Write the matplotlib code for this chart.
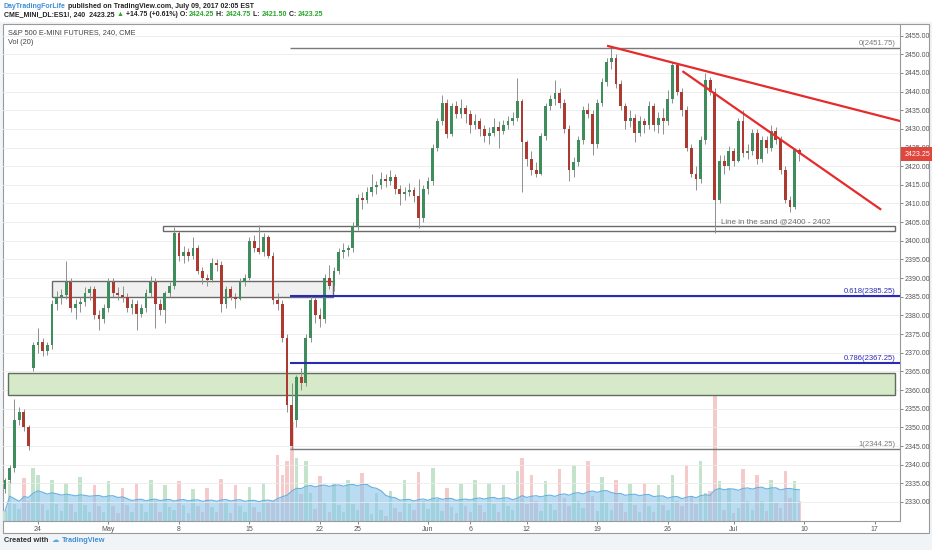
import numpy as np
import pandas as pd
import matplotlib
matplotlib.use("Agg")
import matplotlib.pyplot as plt
from matplotlib.patches import Rectangle
from matplotlib.ticker import FormatStrFormatter
from matplotlib.transforms import blended_transform_factory

plt.rcParams['font.family'] = ['Liberation Sans', 'DejaVu Sans']

# 240-minute ES1! bars (about 3 per session)
opens = [
    2333.5, 2336, 2339, 2352, 2354, 2350, 2366, 2372, 2373, 2370.5,
    2372, 2383, 2385, 2385.5, 2389, 2382, 2383, 2383.5, 2386, 2387,
    2380, 2379, 2382, 2389, 2386, 2385.5, 2385, 2382, 2383, 2380.5,
    2382, 2386, 2389, 2383, 2381.5, 2386, 2388, 2402, 2396, 2397,
    2396, 2398, 2392, 2390, 2389.5, 2394, 2393.5, 2383, 2387, 2385,
    2384.5, 2389, 2390, 2400, 2398, 2397, 2401, 2396, 2384, 2383,
    2374, 2356, 2352, 2363.5, 2362, 2374, 2384, 2380, 2379, 2390,
    2388, 2392, 2397, 2397.5, 2398, 2404, 2411.5, 2411, 2413, 2414.5,
    2415, 2416.5, 2416, 2417, 2414, 2412.5, 2413, 2413.5, 2412, 2406,
    2414, 2416, 2425, 2432, 2437, 2428.5, 2436, 2434, 2435.5, 2434,
    2431, 2432, 2430, 2428, 2429, 2430.5, 2429.5, 2431, 2432, 2433,
    2437.5, 2426.5, 2422, 2419, 2418, 2428, 2436, 2438, 2439.5, 2437,
    2430, 2419, 2421, 2427, 2435, 2434, 2426, 2437, 2442.5, 2448,
    2449, 2442, 2436, 2432, 2433, 2429, 2432, 2431, 2436, 2431,
    2433, 2432, 2438, 2447, 2440, 2435, 2425, 2418, 2416.5, 2427,
    2443, 2440, 2411, 2421.5, 2420, 2424, 2421.5, 2432, 2423.5, 2424,
    2429, 2422, 2427, 2425, 2429.5, 2427, 2419, 2411, 2409, 2424.25,
]
highs = [
    2336.5, 2340, 2357.5, 2355.5, 2355, 2350.5, 2373, 2376.5, 2374, 2373,
    2384, 2386.5, 2387, 2394.5, 2390, 2384.5, 2385, 2387.5, 2388, 2388,
    2381.5, 2383, 2390, 2390, 2387.5, 2388, 2386, 2384.5, 2384, 2383,
    2387, 2390.5, 2390, 2384.5, 2386.5, 2389, 2403.75, 2402.5, 2398.5, 2398,
    2401, 2399, 2393, 2391, 2395.5, 2395, 2394.5, 2388, 2388, 2386,
    2390, 2391, 2401, 2401.5, 2404.25, 2402, 2401.5, 2397, 2386, 2384,
    2375, 2362, 2364, 2366, 2375, 2385.5, 2385, 2382, 2391, 2393.5,
    2393, 2398, 2399.5, 2399, 2405, 2412.5, 2413, 2414.5, 2418, 2416,
    2418.5, 2418, 2419, 2418, 2415, 2414.5, 2415.5, 2414.5, 2416.5, 2415,
    2417, 2426, 2433, 2439, 2438, 2437, 2437.5, 2438, 2436.5, 2435,
    2434, 2433, 2431, 2430.5, 2433, 2432, 2432.5, 2433.5, 2434.5, 2443.5,
    2438, 2427, 2424, 2421, 2429, 2437, 2439, 2443, 2441, 2438,
    2431, 2422.5, 2428, 2436, 2437, 2435, 2438, 2443.5, 2449, 2451.75,
    2450, 2443, 2437, 2435, 2434, 2433.5, 2433, 2437.5, 2437, 2434.5,
    2435.5, 2440.5, 2448, 2447.5, 2441, 2436, 2426, 2420, 2428, 2445,
    2444, 2441, 2423, 2423, 2425.5, 2425, 2433, 2435, 2426, 2430,
    2430, 2428, 2428, 2431, 2430.5, 2428, 2420, 2412, 2425, 2424.75,
]
lows = [
    2332.5, 2335, 2338, 2350.5, 2349, 2344, 2365, 2370, 2369, 2369.5,
    2371, 2381.5, 2383, 2384.5, 2381, 2379, 2381, 2382.5, 2384, 2379,
    2376, 2378, 2381, 2385, 2384, 2383.5, 2381, 2380.5, 2376, 2379.5,
    2381, 2385, 2376.5, 2380, 2378, 2385, 2387, 2394.5, 2394, 2394.5,
    2395, 2391, 2388.5, 2388, 2389, 2392, 2381, 2382, 2384, 2382,
    2384, 2388, 2389.5, 2397, 2396.5, 2396, 2395.5, 2383, 2381.5, 2373,
    2354, 2344.25, 2350, 2360, 2361, 2373, 2378, 2377, 2378, 2387,
    2386.5, 2391, 2395.5, 2396, 2397, 2403, 2408.5, 2410, 2412, 2412.5,
    2414, 2414.5, 2415, 2412.5, 2409.5, 2411, 2412, 2410.5, 2403.5, 2405,
    2412.5, 2415, 2424, 2431, 2427.5, 2428, 2433, 2433, 2431.5, 2429,
    2430, 2428, 2426.5, 2426, 2428, 2425, 2428.5, 2430, 2431, 2432,
    2413, 2420, 2417.5, 2417, 2417.5, 2427, 2435, 2436.5, 2435.5, 2429,
    2416, 2417, 2420, 2426, 2433, 2423, 2425, 2436, 2441.5, 2446,
    2441, 2435, 2430, 2430.5, 2426.5, 2428, 2429, 2430, 2429.5, 2429,
    2428.5, 2431, 2437, 2439, 2433.5, 2424, 2417, 2413.5, 2415.5, 2426,
    2439, 2402, 2410, 2418, 2419, 2420, 2421, 2422.5, 2422, 2423,
    2420.5, 2421, 2423.5, 2424, 2426, 2418, 2410, 2407.75, 2408.5, 2421.5,
]
closes = [
    2336, 2339, 2352, 2354, 2350, 2345, 2372, 2373, 2370.5, 2372,
    2383, 2385, 2385.5, 2389, 2382, 2383, 2383.5, 2386, 2387, 2380,
    2379, 2382, 2389, 2386, 2385.5, 2385, 2382, 2383, 2380.5, 2382,
    2386, 2389, 2383, 2381.5, 2386, 2388, 2402, 2396, 2397, 2396,
    2398, 2392, 2390, 2389.5, 2394, 2393.5, 2383, 2387, 2385, 2384.5,
    2389, 2390, 2400, 2398, 2397, 2401, 2396, 2384, 2383, 2374,
    2356, 2345, 2363.5, 2362, 2374, 2384, 2380, 2379, 2390, 2388,
    2392, 2397, 2397.5, 2398, 2404, 2411.5, 2411, 2413, 2414.5, 2415,
    2416.5, 2416, 2417, 2414, 2412.5, 2413, 2413.5, 2412, 2406, 2414,
    2416, 2425, 2432, 2437, 2428.5, 2436, 2434, 2435.5, 2434, 2431,
    2432, 2430, 2428, 2429, 2430.5, 2429.5, 2431, 2432, 2433, 2437.5,
    2426.5, 2422, 2419, 2418, 2428, 2436, 2438, 2439.5, 2437, 2430,
    2419, 2421, 2427, 2435, 2434, 2426, 2437, 2442.5, 2448, 2449,
    2442, 2436, 2432, 2433, 2429, 2432, 2431, 2436, 2431, 2433,
    2432, 2438, 2447, 2440, 2435, 2425, 2418, 2416.5, 2427, 2443,
    2440, 2411, 2421.5, 2420, 2424, 2421.5, 2432, 2423.5, 2424, 2429,
    2422, 2427, 2425, 2429.5, 2427, 2419, 2411, 2409, 2424.25, 2423.25,
]
# volume in thousands of contracts
volumes = [
    150, 600, 260, 180, 650, 300, 800, 700, 260, 160,
    620, 250, 150, 580, 260, 140, 660, 240, 130, 540,
    230, 130, 600, 220, 120, 500, 240, 140, 560, 260,
    130, 620, 300, 130, 540, 210, 170, 600, 240, 120,
    480, 220, 130, 500, 210, 140, 640, 280, 120, 540,
    230, 140, 520, 210, 130, 580, 280, 300, 1000, 700,
    900, 1500, 950, 400, 900, 420, 180, 680, 280, 140,
    580, 240, 130, 620, 250, 170, 720, 280, 110, 420,
    170, 80, 460, 200, 130, 620, 250, 170, 740, 300,
    180, 800, 330, 150, 500, 210, 120, 560, 230, 140,
    620, 240, 130, 580, 260, 140, 540, 230, 170, 760,
    950, 250, 700, 300, 150, 600, 260, 170, 780, 350,
    220, 840, 300, 190, 900, 380, 150, 660, 270, 170,
    620, 290, 140, 560, 240, 130, 580, 230, 140, 540,
    240, 170, 700, 300, 230, 850, 380, 250, 900, 420,
    450, 1900, 600, 160, 500, 120, 200, 780, 300, 170,
    700, 300, 150, 620, 270, 190, 760, 340, 600, 300,
]

date_ticks = [7, 22, 37, 52, 67, 75, 90, 99, 111, 126, 141, 155, 170, 185]
date_labels = ['24', 'May', '8', '15', '22', '25', 'Jun', '6', '12', '19', '26', 'Jul', '10', '17']

fib_levels = ['0', '0.618', '0.786', '1']
fib_prices = [2451.75, 2385.25, 2367.25, 2344.25]
last_price = 2423.25

W, H = 932, 550
fig = plt.figure(figsize=(W / 100, H / 100), dpi=100, facecolor='#f1f4f7')


def fx(px):
    return px / W


def fy(py):
    return 1 - py / H


# white chart pane with its frame
fig.add_artist(Rectangle((fx(3), fy(533)), 926 / W, 509 / H, transform=fig.transFigure,
                         facecolor='white', edgecolor='#9a9a9a', lw=0.8, zorder=-5))
fig.add_artist(Rectangle((0, fy(22)), 1, 22 / H, transform=fig.transFigure,
                         facecolor='white', edgecolor='none', zorder=-6))

rect = [fx(3), fy(521), 897 / W, 497 / H]
ax_v = fig.add_axes(rect)
ax = fig.add_axes(rect, sharex=ax_v)
ax.set_zorder(2)
ax.patch.set_visible(False)
ax_v.patch.set_visible(False)

x = np.arange(len(closes))
o = np.array(opens)
h = np.array(highs)
l = np.array(lows)
c = np.array(closes)
up = c >= o

# volume + MA(20)
vol_col = np.where(up, '#c4e3cb', '#f4caca')
ax_v.bar(x, volumes, width=0.75, color=vol_col, lw=0)
vol_ma = pd.Series(volumes).rolling(20, min_periods=1).mean()
ax_v.fill_between(x, 0, vol_ma, color='#8cc6ec', alpha=0.6, lw=0)
ax_v.plot(x, vol_ma, color='#66b0e2', lw=0.8)
ax_v.set_ylim(0, 7500)
ax_v.axis('off')

# candles
body_col = np.where(up, '#3f8d5d', '#ad3a31')
ax.vlines(x, l, h, colors='#8f8f8f', lw=0.7, zorder=3)
ax.bar(x, np.maximum(np.abs(c - o), 0.3), bottom=np.minimum(o, c), width=0.6,
       color=body_col, lw=0, zorder=4)

ax.set_xlim(-0.43, 190.4)
ax.set_ylim(2324.9, 2458.1)

# zones drawn on the chart
ax.add_patch(Rectangle((10.0, 2385.0), 59.8, 4.2, facecolor='#f0f0f0',
                       edgecolor='#6a6a6a', lw=1, zorder=2))
ax.add_patch(Rectangle((0.64, 2358.7), 188.8, 5.9, facecolor='#d6e9c9',
                       edgecolor='#5f6e5f', lw=1, zorder=2))
ax.add_patch(Rectangle((33.6, 2402.6), 155.8, 1.4, facecolor='white',
                       edgecolor='#6a6a6a', lw=1, zorder=2))
ax.text(152.3, 2405.2, 'Line in the sand @2400 - 2402', fontsize=5.8,
        color='#6e6e6e', va='center', ha='left', zorder=6)

# fibonacci retracement
for lvl, p in zip(fib_levels, fib_prices):
    col = '#2a2ab8' if lvl in ('0.618', '0.786') else '#7a7a7a'
    lw = 1.5 if col == '#2a2ab8' else 1.0
    ax.hlines(p, 60.6, 190.4, color=col, lw=lw, zorder=5)
    ax.text(189.4, p + 0.3, f'{lvl}({p:.2f})', fontsize=5.5, color=col,
            ha='right', va='bottom', zorder=6)

# red trend lines
ax.plot([128.3, 190.4], [2452.2, 2432.1], color='#e52b2b', lw=1.6, zorder=7)
ax.plot([144.3, 186.2], [2445.3, 2408.5], color='#e52b2b', lw=1.6, zorder=7)

# axes styling
ax.yaxis.tick_right()
ax.set_yticks(np.arange(2330, 2456, 5))
ax.yaxis.set_major_formatter(FormatStrFormatter('%.2f'))
ax.set_xticks(date_ticks, date_labels)
ax.tick_params(axis='y', labelsize=5, colors='#555555', length=2, width=0.5, pad=1.5)
ax.tick_params(axis='x', labelsize=5, colors='#555555', length=2, width=0.5, pad=1.5)
ax.grid(axis='y', color='#ebebeb', lw=0.6)
ax.set_axisbelow(True)
for s in ('top', 'left'):
    ax.spines[s].set_visible(False)
for s in ('right', 'bottom'):
    ax.spines[s].set_color('#9a9a9a')
    ax.spines[s].set_linewidth(0.8)

tr = blended_transform_factory(ax.transAxes, ax.transData)
ax.text(1.005, last_price, f'{last_price:.2f}', transform=tr, fontsize=5, color='white',
        ha='left', va='center', zorder=8,
        bbox=dict(boxstyle='square,pad=0.45', fc='#e0463c', ec='none'))

# header and legend texts
renderer = fig.canvas.get_renderer()


def write_parts(x_px, y_px, parts, size, weight='bold'):
    for s, col in parts:
        t = fig.text(fx(x_px), fy(y_px), s, color=col, fontsize=size, weight=weight,
                     va='center', ha='left')
        x_px += t.get_window_extent(renderer).width


green = '#2aa52a'
write_parts(4, 6, [('DayTradingForLife', '#3d8fd6'),
                   (' published on TradingView.com, July 09, 2017 02:05 EST', '#222222')], 5.0)
write_parts(4, 15, [('CME_MINI_DL:ES1!, 240  2423.25 ', '#222222'), ('\u25b2', green),
                    (' +14.75 (+0.61%) O: ', '#222222'), ('2424.25', green),
                    (' H: ', '#222222'), ('2424.75', green), (' L: ', '#222222'),
                    ('2421.50', green), (' C: ', '#222222'), ('2423.25', green)], 5.0)

fig.text(fx(8), fy(33), 'S&P 500 E-MINI FUTURES, 240, CME', fontsize=5.3, color='#444444', va='center')
fig.text(fx(8), fy(43), 'Vol (20)', fontsize=5.3, color='#444444', va='center')

write_parts(4, 541, [('Created with  ', '#333333'), ('\u2601 ', '#5aa7e0'),
                     ('TradingView', '#3d8fd6')], 5.3)

fig.savefig('out.png', dpi=100, facecolor=fig.get_facecolor())
